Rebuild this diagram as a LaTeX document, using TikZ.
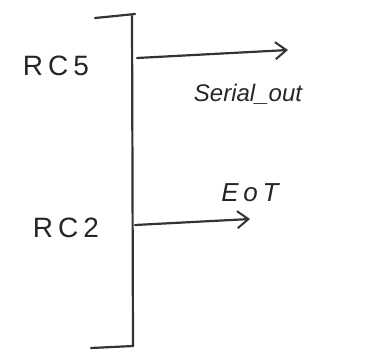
\documentclass[tikz,border=0pt]{standalone}
\usepackage{fontspec}
\setmainfont{Liberation Sans}
\newfontfamily\spacedfont[LetterSpace=18]{Liberation Sans}
\usetikzlibrary{arrows.meta}
\begin{document}
\begin{tikzpicture}[x=1pt,y=-1pt,
  ink/.style={draw=black!80, line width=2.2pt, line cap=round},
  sig/.style={ink, -{Straight Barb[length=11pt,width=17pt,line width=2pt]}},
  pin/.style={font=\spacedfont\fontsize{28}{28}\selectfont, text=black!85, inner sep=0pt},
  outlbl/.style={font=\itshape\fontsize{24}{24}\selectfont, text=black!85, inner sep=0pt},
  eotlbl/.style={font=\spacedfont\itshape\fontsize{26}{26}\selectfont, text=black!85, inner sep=0pt}]
  \useasboundingbox (0,0) rectangle (374,360);
  % vertical bus bar with its end ticks
  \coordinate (top) at (132,16);
  \coordinate (bot) at (133,346);
  \coordinate (topL) at (95,18);
  \coordinate (topR) at (135,14);
  \coordinate (botL) at (91,348);
  \draw[ink] (top) -- (bot);
  \draw[ink] (topL) -- (topR);
  \draw[ink] (botL) -- (bot);
  % pin labels
  \node[pin] (rc5) at (56,66) {RC5};
  \node[pin] (rc2) at (66,228) {RC2};
  % outputs
  \coordinate (p5) at (137,58);
  \coordinate (o5) at (288,50);
  \coordinate (p2) at (135,225);
  \coordinate (o2) at (250,219);
  \draw[sig] (p5) -- (o5);
  \draw[sig] (p2) -- (o2);
  \node[outlbl] (ser) at (248,94) {Serial\_out};
  \node[eotlbl] (eot) at (250,193) {EoT};
\end{tikzpicture}
\end{document}
